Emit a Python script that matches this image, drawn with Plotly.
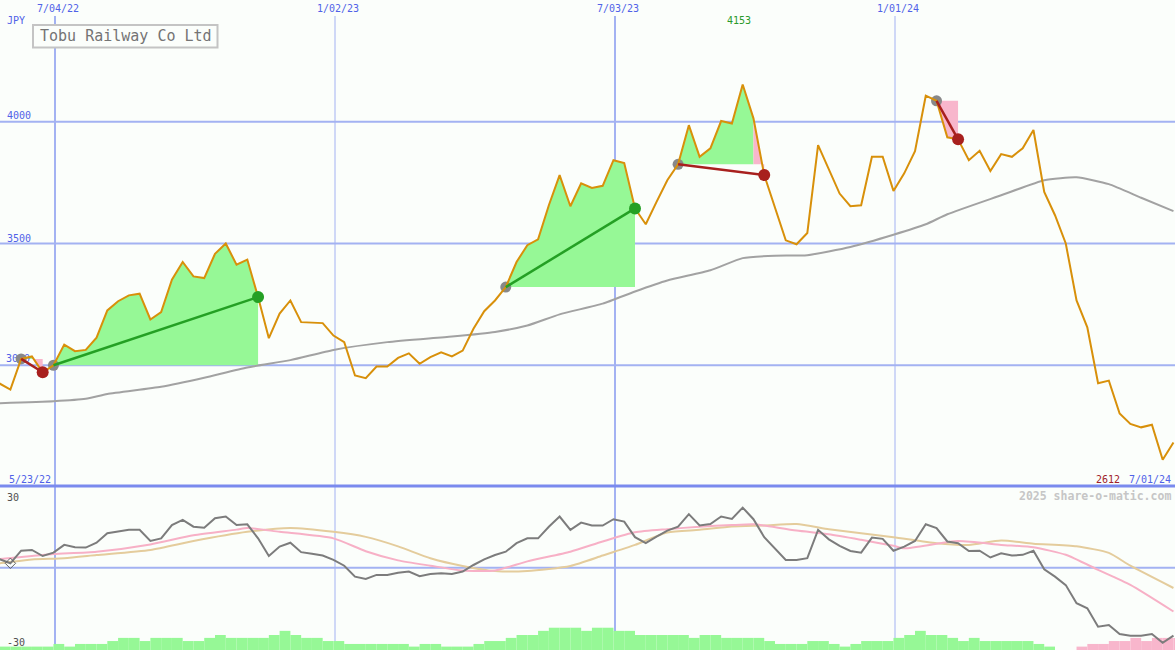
import plotly.graph_objects as go
import pandas as pd

# ---------------- data (weekly closes, JPY) ----------------
first_date = "2022-05-22"
price = [2950, 2925, 2900, 3026, 3036, 2971,
         3000, 3085, 3058, 3063, 3113, 3225, 3263, 3287, 3294, 3188,
         3218, 3351, 3424, 3365, 3358, 3458, 3500, 3413, 3434, 3280,
         3111, 3212, 3266, 3177, 3175, 3173, 3122, 3095, 2958, 2947,
         2995, 2995, 3030, 3049, 3006, 3033, 3053, 3036, 3060, 3150,
         3222, 3266, 3321, 3424, 3493, 3517, 3657, 3781, 3653, 3747,
         3728, 3737, 3842, 3830, 3644, 3579, 3671, 3760, 3825, 3986,
         3856, 3891, 4003, 3993, 4153, 4014, 3781, 3650, 3513, 3497,
         3543, 3904, 3801, 3705, 3653, 3657, 3856, 3856, 3716, 3788,
         3879, 4107, 4086, 3936, 3928, 3842, 3881, 3798, 3867, 3856,
         3891, 3966, 3712, 3616, 3500, 3266, 3156, 2926, 2937, 2802,
         2759, 2745, 2756, 2612, 2683]

# slow moving average (read at selected weeks, week 0 = 2022-07-03)
ma_week = [-6, 0, 3, 5, 10, 14, 18, 22, 26, 31, 37, 41, 44, 47, 51, 54, 57, 61,
           64, 67, 70, 74, 78, 81, 83, 88, 92, 95, 98, 101, 104]
ma_val = [2843, 2852, 2862, 2882, 2912, 2949, 2991, 3021, 3063, 3095, 3118, 3137,
          3163, 3209, 3253, 3303, 3348, 3390, 3440, 3450, 3452, 3486, 3536, 3579,
          3620, 3698, 3760, 3772, 3744, 3688, 3633]

# momentum oscillator (weekly)
momentum = [4.0, 3.5, 1.8, 7.0, 7.3, 4.8,
            6.2, 9.4, 8.4, 8.3, 10.3, 14.2, 14.9, 15.6, 15.6, 11.0,
            12.1, 17.6, 19.7, 16.9, 16.5, 20.4, 21.1, 17.6, 17.9, 12.1,
            4.8, 8.7, 10.3, 6.4, 5.7, 5.0, 3.2, 0.8, -3.7, -4.7,
            -3.0, -3.0, -2.1, -1.6, -3.5, -2.6, -2.3, -2.6, -1.6, 1.1,
            3.4, 5.2, 6.6, 10.1, 12.1, 12.1, 16.9, 21.1, 15.6, 18.6,
            17.4, 17.4, 20.0, 19.0, 12.6, 10.1, 12.8, 15.3, 16.9, 22.1,
            17.4, 18.0, 21.1, 20.1, 24.8, 20.0, 12.6, 8.0, 3.2, 3.2,
            3.9, 15.6, 11.7, 9.0, 6.9, 6.2, 12.4, 11.9, 7.0, 8.7,
            11.0, 17.9, 16.3, 10.8, 10.1, 6.9, 7.0, 4.2, 5.9, 5.0,
            5.3, 7.0, -0.7, -3.7, -7.2, -14.7, -16.8, -24.4, -23.7, -27.4,
            -28.1, -28.1, -27.4, -31.0, -28.1]

# fast signal line of the oscillator (pink)
sig1_week = [-6, -5, -2, 0, 4, 9, 13, 17, 18, 21, 26, 29, 32, 35, 38, 41, 44, 48,
             51, 54, 57, 60, 63, 65, 66, 69, 72, 75, 78, 79, 84, 88, 91, 94, 97, 100, 104]
sig1_val = [3.4, 3.6, 4.8, 5.6, 6.6, 9.6, 13.4, 15.7, 16.4, 14.8, 12.1, 6.8, 3.0, 0.8,
            -1.2, -1.2, 2.6, 6.6, 10.8, 14.6, 15.9, 16.9, 17.6, 17.9, 17.4, 15.3, 13.8,
            11.5, 9.0, 8.0, 11.0, 9.4, 8.4, 5.3, -0.9, -7.1, -18.1]

# slow signal line of the oscillator (tan)
sig2_week = [-6, -5, -2, 1, 4, 9, 13, 18, 22, 26, 29, 32, 35, 38, 41, 44, 48, 51, 54,
             57, 60, 63, 66, 69, 72, 75, 78, 82, 85, 88, 91, 95, 98, 100, 104]
sig2_val = [1.5, 1.8, 3.4, 3.9, 5.2, 7.3, 11.0, 14.8, 16.4, 14.8, 12.7, 8.8, 3.9, 0.7,
            -1.4, -1.4, 0.7, 5.0, 9.4, 14.5, 15.6, 17.0, 17.4, 18.0, 15.9, 14.2, 12.6,
            10.1, 9.4, 11.2, 9.9, 8.8, 6.1, 0.8, -8.4]

# bottom histogram (positive = green, negative = pink)
hist = [1.4, 1.4, 1.4, 1.4, 1.4, 1.4,
        2.5, 1.4, 2.5, 2.5, 2.5, 3.7, 5.0, 5.0, 3.7, 5.0,
        5.0, 5.0, 3.7, 3.7, 5.0, 6.2, 5.0, 5.0, 5.0, 5.0,
        6.2, 7.9, 6.2, 5.0, 5.0, 3.7, 3.7, 2.5, 2.5, 2.5,
        2.5, 2.5, 2.5, 1.4, 2.5, 2.5, 1.4, 1.4, 1.4, 2.5,
        3.7, 3.7, 5.0, 6.2, 6.2, 7.9, 9.2, 9.2, 9.2, 7.9,
        9.2, 9.2, 7.9, 7.9, 6.2, 6.2, 6.2, 6.2, 6.2, 5.0,
        6.2, 6.2, 5.0, 5.0, 5.0, 5.0, 3.7, 2.5, 2.5, 2.5,
        3.7, 3.7, 2.5, 1.4, 2.5, 3.7, 3.7, 3.7, 5.0, 6.2,
        7.9, 6.2, 6.2, 5.0, 3.7, 5.0, 3.7, 3.7, 3.7, 3.7,
        3.7, 2.5, 1.4, 0.0, 0.0, -1.4, -2.5, -2.5, -3.7, -3.7,
        -5.0, -3.7, -5.0, -5.0, -5.0]

# trend segments: (start week, end week, direction)
segments = [(-3, -1, "down"), (0, 19, "up"), (42, 54, "up"), (58, 66, "down"), (82, 84, "down")]

grid_dates = ["2022-07-04", "2023-01-02", "2023-07-03", "2024-01-01"]
grid_labels = ["7/04/22", "1/02/23", "7/03/23", "1/01/24"]
grid_widths = [2, 1, 2, 1]
price_levels = [3000, 3500, 4000]

# ---------------- helpers ----------------
W, H = 1175, 650
dates = pd.date_range(first_date, periods=len(price), freq="7D")
week0 = pd.Timestamp("2022-07-03")
OFF = 6  # index offset of week 0


def wk(k):
    return week0 + pd.Timedelta(days=7 * k)


def px(x):
    return x / W


def py(y):
    return 1 - y / H


BG = "#fbfefb"
GRID = "#a3b2f2"
BLUE_TXT = "#5062e8"
ORANGE = "#d8900a"
GREEN_FILL = "#96f896"
PINK_FILL = "#f8b6cc"

fig = go.Figure()

# ---- bottom panel: histogram
bar_x = [d + pd.Timedelta(hours=84) for d in dates]
fig.add_trace(go.Bar(
    x=bar_x, y=[abs(v) for v in hist], base=-34.0, width=7 * 86400000,
    marker=dict(color=[GREEN_FILL if v >= 0 else PINK_FILL for v in hist], line=dict(width=0)),
    xaxis="x2", yaxis="y2", hoverinfo="skip", showlegend=False))

fig.add_trace(go.Scatter(x=[wk(k) for k in sig2_week], y=sig2_val, mode="lines",
                         line=dict(color="#e4cc9c", width=2, shape="spline", smoothing=0.6),
                         xaxis="x2", yaxis="y2", showlegend=False))
fig.add_trace(go.Scatter(x=[wk(k) for k in sig1_week], y=sig1_val, mode="lines",
                         line=dict(color="#f7b0c6", width=2, shape="spline", smoothing=0.6),
                         xaxis="x2", yaxis="y2", showlegend=False))
fig.add_trace(go.Scatter(x=dates, y=momentum, mode="lines",
                         line=dict(color="#7c7c7c", width=2),
                         xaxis="x2", yaxis="y2", showlegend=False))
fig.add_trace(go.Scatter(x=[dates[2]], y=[momentum[2]], mode="markers",
                         marker=dict(symbol="diamond-open", size=8, color="#606060", line=dict(width=1)),
                         xaxis="x2", yaxis="y2", showlegend=False))


# ---- top panel: trend fills (each weekly step coloured by where it ends vs. the start level)
def fill_runs(k0, k1, b):
    runs = []
    for k in range(k0, k1):
        col = GREEN_FILL if price[k + 1 + OFF] >= b else PINK_FILL
        if runs and runs[-1][0] == col:
            runs[-1][2] = k + 1
        else:
            runs.append([col, k, k + 1])
    return runs


for k0, k1, d in segments:
    b = price[k0 + OFF]
    for col, a, e in fill_runs(k0, k1, b):
        xs = [dates[k + OFF] for k in range(a, e + 1)] + [dates[e + OFF], dates[a + OFF], dates[a + OFF]]
        ys = [price[k + OFF] for k in range(a, e + 1)] + [b, b, price[a + OFF]]
        fig.add_trace(go.Scatter(x=xs, y=ys, mode="lines", fill="toself", fillcolor=col,
                                 line=dict(width=0), hoverinfo="skip", showlegend=False))

# "3000" label drawn under the markers
fig.add_trace(go.Scatter(x=[pd.Timestamp("2022-06-02 04:00")], y=[3024], mode="text",
                         text=["3000"], textposition="middle right",
                         textfont=dict(family="DejaVu Sans Mono", size=10, color=BLUE_TXT),
                         showlegend=False, hoverinfo="skip"))

# moving average
fig.add_trace(go.Scatter(x=[wk(k) for k in ma_week], y=ma_val, mode="lines",
                         line=dict(color="#a2a2a2", width=2, shape="spline", smoothing=0.5),
                         showlegend=False))

# start markers (grey)
fig.add_trace(go.Scatter(x=[dates[k0 + OFF] for k0, _, _ in segments],
                         y=[price[k0 + OFF] for k0, _, _ in segments], mode="markers",
                         marker=dict(color="#888888", size=11), showlegend=False))

# price line
fig.add_trace(go.Scatter(x=dates, y=price, mode="lines",
                         line=dict(color=ORANGE, width=2), showlegend=False))

# trend lines and end markers
for k0, k1, d in segments:
    col = "#24a024" if d == "up" else "#a8201e"
    fig.add_trace(go.Scatter(x=[dates[k0 + OFF], dates[k1 + OFF]],
                             y=[price[k0 + OFF], price[k1 + OFF]], mode="lines",
                             line=dict(color=col, width=2.5), showlegend=False))
    fig.add_trace(go.Scatter(x=[dates[k1 + OFF]], y=[price[k1 + OFF]], mode="markers",
                             marker=dict(color=col, size=12), showlegend=False))

# ---------------- shapes (grid) ----------------
shapes = []
dom_split = 163 / H
for gd, w in zip(grid_dates, grid_widths):
    shapes.append(dict(type="line", xref="x", yref="paper", x0=gd, x1=gd, y0=0, y1=py(16),
                       line=dict(color=GRID, width=w), layer="below"))
for lv in price_levels:
    shapes.append(dict(type="line", xref="paper", yref="y", x0=0, x1=1, y0=lv, y1=lv,
                       line=dict(color=GRID, width=2), layer="below"))
shapes.append(dict(type="line", xref="paper", yref="y2", x0=0, x1=1, y0=0, y1=0,
                   line=dict(color=GRID, width=2), layer="below"))
shapes.append(dict(type="line", xref="paper", yref="paper", x0=0, x1=1, y0=py(486), y1=py(486),
                   line=dict(color="#7a8aee", width=3)))
# title box
shapes.append(dict(type="rect", xref="paper", yref="paper", x0=px(33), x1=px(217.5), y0=py(25), y1=py(47.5),
                   line=dict(color="#c4c4c4", width=2), fillcolor=BG))

# ---------------- annotations ----------------
mono = "DejaVu Sans Mono"


def ann(text, x, y, color, size=10, xanchor="left", bold=False):
    return dict(text=f"<b>{text}</b>" if bold else text, x=px(x), y=py(y), xref="paper", yref="paper",
                xanchor=xanchor, yanchor="middle", showarrow=False,
                font=dict(family=mono, size=size, color=color))


annotations = []
gx = [58, 338, 618, 898]
for lab, x in zip(grid_labels, gx):
    annotations.append(ann(lab, x, 9, BLUE_TXT, xanchor="center"))
annotations += [
    ann("JPY", 5, 21, BLUE_TXT),
    ann("4000", 5, 116, BLUE_TXT),
    ann("3500", 5, 238, BLUE_TXT),
    ann("5/23/22", 7, 479, BLUE_TXT),
    ann("2612", 1122, 479, "#a02028", xanchor="right"),
    ann("7/01/24", 1173, 479, BLUE_TXT, xanchor="right"),
    ann("4153", 738.5, 21, "#2a9a2a", xanchor="center"),
    ann("2025 share-o-matic.com", 1173, 496, "#c6c6c6", size=11.5, xanchor="right", bold=True),
    ann("30", 5, 497, "#505050"),
    ann("-30", 5, 642, "#505050"),
    ann("Tobu Railway Co Ltd", 125.5, 36.5, "#747474", size=15, xanchor="center"),
]

fig.update_layout(
    width=W, height=H, margin=dict(l=0, r=0, t=0, b=0),
    paper_bgcolor=BG, plot_bgcolor=BG,
    showlegend=False, hovermode=False,
    xaxis=dict(domain=[0, 1], anchor="y", range=["2022-05-29 06:00", "2024-07-01"], visible=False),
    xaxis2=dict(domain=[0, 1], anchor="y2", matches="x", visible=False),
    yaxis=dict(domain=[dom_split, 1], range=[2500, 4500], visible=False),
    yaxis2=dict(domain=[0, dom_split], range=[-34.0, 33.3], visible=False),
    shapes=shapes, annotations=annotations,
)

fig.write_html("out.html", config={"displayModeBar": False},
               post_script="document.body.style.margin='0px';document.body.style.padding='0px';"
                           "document.body.style.overflow='hidden';")
